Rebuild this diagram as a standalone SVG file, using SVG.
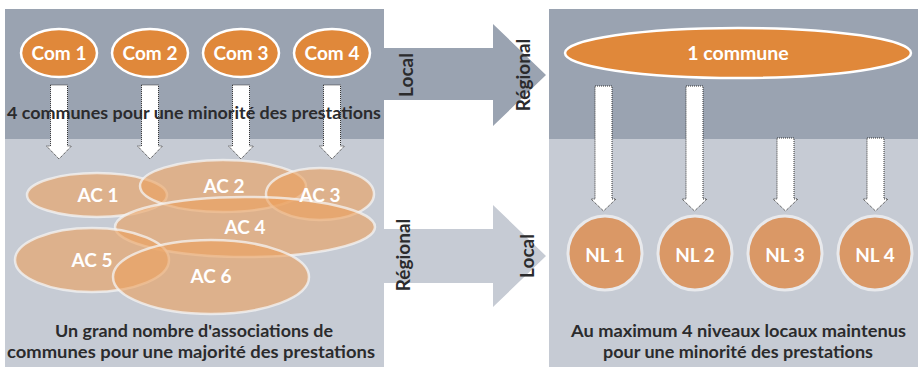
<svg xmlns="http://www.w3.org/2000/svg" width="918" height="367" viewBox="0 0 918 367">
<style>
  text { font-family: Lato, "Open Sans", "Liberation Sans", sans-serif; font-weight: 700; }
  .lbl { fill: #ffffff; font-size: 19px; text-anchor: middle; }
  .cap { fill: #2b2b2d; font-size: 17.5px; text-anchor: middle; }
  .rot { fill: #2b2b2d; font-size: 19px; text-anchor: middle; }
  .com { fill: #e0883a; stroke: #ffffff; stroke-width: 2.5; }
  .ac { fill: #eca25f; fill-opacity: 0.62; stroke: #f4f4f4; stroke-opacity: 0.75; stroke-width: 2.5; }
  .nl { fill: #da9866; stroke: #e8e9ec; stroke-width: 3; }
  .down { fill: #ffffff; stroke: #333333; stroke-width: 1; stroke-dasharray: 1 1; }
</style>
<rect x="0" y="0" width="918" height="367" fill="#ffffff"/>
<g id="panels">
  <rect x="5" y="9" width="379" height="130" fill="#9aa3b1"/>
  <rect x="5" y="139" width="379" height="228" fill="#c6cbd4"/>
  <rect x="549" y="9" width="369" height="130" fill="#9aa3b1"/>
  <rect x="549" y="139" width="369" height="228" fill="#c6cbd4"/>
</g>
<g id="connectors">
  <path d="M384,48 H493 V24 L546,75 L493,126 V100 H384 Z" fill="#9aa3b1"/>
  <path d="M384,229 H493 V205 L546,256 L493,307 V283 H384 Z" fill="#c6cbd4"/>
  <text class="rot" transform="translate(413,75) rotate(-90)">Local</text>
  <text class="rot" transform="translate(530,75) rotate(-90)">Régional</text>
  <text class="rot" transform="translate(410,255) rotate(-90)">Régional</text>
  <text class="rot" transform="translate(534,256) rotate(-90)">Local</text>
  <path class="down" d="M50.5,85 H67.5 V146 H71.5 L59,159 L46.5,146 H50.5 Z"/>
  <path class="down" d="M141.5,85 H158.5 V146 H162.5 L150,159 L137.5,146 H141.5 Z"/>
  <path class="down" d="M232.5,85 H249.5 V146 H253.5 L241,159 L228.5,146 H232.5 Z"/>
  <path class="down" d="M323.5,85 H340.5 V146 H344.5 L332,159 L319.5,146 H323.5 Z"/>
  <path class="down" d="M595,86 H612 V199 H616 L603.5,211 L591,199 H595 Z"/>
  <path class="down" d="M686,86 H703 V199 H707 L694.5,211 L682,199 H686 Z"/>
  <path class="down" d="M777,138 H794 V199 H798 L785.5,211 L773,199 H777 Z"/>
  <path class="down" d="M867,138 H884 V199 H888 L875.5,211 L863,199 H867 Z"/>
</g>
<g id="com1"><ellipse class="com" cx="59" cy="53" rx="38" ry="24"/><text class="lbl" x="59" y="60">Com 1</text></g>
<g id="com2"><ellipse class="com" cx="150" cy="53" rx="38" ry="24"/><text class="lbl" x="150" y="60">Com 2</text></g>
<g id="com3"><ellipse class="com" cx="241" cy="53" rx="38" ry="24"/><text class="lbl" x="241" y="60">Com 3</text></g>
<g id="com4"><ellipse class="com" cx="332" cy="53" rx="38" ry="24"/><text class="lbl" x="332" y="60">Com 4</text></g>
<g id="caption-top-left"><text class="cap" x="194" y="119" textLength="374" lengthAdjust="spacingAndGlyphs">4 communes pour une minorité des prestations</text></g>
<g id="ac1"><ellipse class="ac" cx="97" cy="195" rx="70" ry="22"/></g>
<g id="ac2"><ellipse class="ac" cx="223" cy="186" rx="83" ry="26"/></g>
<g id="ac3"><ellipse class="ac" cx="320" cy="194" rx="54" ry="26"/></g>
<g id="ac4"><ellipse class="ac" cx="245" cy="227" rx="130" ry="30"/></g>
<g id="ac5"><ellipse class="ac" cx="92" cy="260" rx="77" ry="32"/></g>
<g id="ac6"><ellipse class="ac" cx="211" cy="277" rx="98" ry="37"/></g>
<g id="ac-labels">
  <text class="lbl" x="98" y="202">AC 1</text>
  <text class="lbl" x="224" y="193">AC 2</text>
  <text class="lbl" x="320" y="202">AC 3</text>
  <text class="lbl" x="245" y="234">AC 4</text>
  <text class="lbl" x="92" y="267">AC 5</text>
  <text class="lbl" x="211" y="283">AC 6</text>
</g>
<g id="caption-bottom-left">
  <text class="cap" x="194" y="337" textLength="278" lengthAdjust="spacingAndGlyphs">Un grand nombre d'associations de</text>
  <text class="cap" x="191" y="358" textLength="368" lengthAdjust="spacingAndGlyphs">communes pour une majorité des prestations</text>
</g>
<g id="commune"><ellipse class="com" cx="738" cy="53" rx="173" ry="25"/><text class="lbl" x="738" y="60" style="font-size:19.5px">1 commune</text></g>
<g id="nl1"><circle class="nl" cx="605" cy="253" r="37"/><text class="lbl" x="605" y="262">NL 1</text></g>
<g id="nl2"><circle class="nl" cx="695" cy="253" r="37"/><text class="lbl" x="695" y="262">NL 2</text></g>
<g id="nl3"><circle class="nl" cx="785" cy="253" r="37"/><text class="lbl" x="785" y="262">NL 3</text></g>
<g id="nl4"><circle class="nl" cx="875" cy="253" r="37"/><text class="lbl" x="875" y="262">NL 4</text></g>
<g id="caption-bottom-right">
  <text class="cap" x="738.5" y="337" textLength="335" lengthAdjust="spacingAndGlyphs">Au maximum 4 niveaux locaux maintenus</text>
  <text class="cap" x="738" y="358" textLength="270" lengthAdjust="spacingAndGlyphs">pour une minorité des prestations</text>
</g>
</svg>
